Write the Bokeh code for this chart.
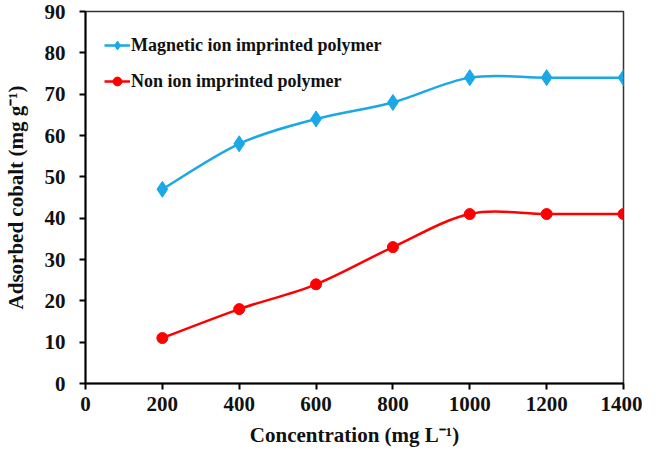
from bokeh.plotting import figure
from bokeh.models import Range1d, Legend, LegendItem, FixedTicker
from bokeh.embed import file_html
from bokeh.resources import INLINE

# ---- data ----
concentration = [200, 400, 600, 800, 1000, 1200, 1400]
magnetic_iip = [47, 58, 64, 68, 74, 74, 74]
non_iip = [11, 18, 24, 33, 41, 41, 41]
x_ticks = [0, 200, 400, 600, 800, 1000, 1200, 1400]
y_ticks = [0, 10, 20, 30, 40, 50, 60, 70, 80, 90]
series_names = ["Magnetic ion imprinted polymer", "Non ion imprinted polymer"]

CYAN = "#1AA8E6"
RED = "#FF0000"
FONT = "Liberation Serif"

p = figure(width=642, height=449, output_backend="svg", toolbar_location=None,
           x_range=Range1d(0, 1400), y_range=Range1d(0, 90),
           min_border_left=83, min_border_right=19, min_border_top=11, min_border_bottom=64)

p.xgrid.visible = False
p.ygrid.visible = False
p.outline_line_color = "#333333"
p.outline_line_width = 1.5


def smooth_segments(xs, ys):
    # Excel-like smoothed line: cubic bezier between consecutive data points
    n = len(xs)
    out = dict(x0=[], y0=[], x1=[], y1=[], cx0=[], cy0=[], cx1=[], cy1=[])
    for i in range(n - 1):
        ip = max(i - 1, 0)
        inx = min(i + 2, n - 1)
        out["x0"].append(xs[i]); out["y0"].append(ys[i])
        out["x1"].append(xs[i + 1]); out["y1"].append(ys[i + 1])
        out["cx0"].append(xs[i] + (xs[i + 1] - xs[ip]) / 6.0)
        out["cy0"].append(ys[i] + (ys[i + 1] - ys[ip]) / 6.0)
        out["cx1"].append(xs[i + 1] - (xs[inx] - xs[i]) / 6.0)
        out["cy1"].append(ys[i + 1] - (ys[inx] - ys[i]) / 6.0)
    return out


items = []
for ys, color, marker, size, name in [
    (magnetic_iip, CYAN, "diamond", 16, series_names[0]),
    (non_iip, RED, "circle", 11, series_names[1]),
]:
    seg = smooth_segments(concentration, ys)
    bz = p.bezier(x0=seg["x0"], y0=seg["y0"], x1=seg["x1"], y1=seg["y1"],
                  cx0=seg["cx0"], cy0=seg["cy0"], cx1=seg["cx1"], cy1=seg["cy1"],
                  line_color=color, line_width=2.5)
    sc = p.scatter(concentration, ys, marker=marker, size=size,
                   fill_color=color, line_color=color)
    items.append(LegendItem(label=name, renderers=[bz, sc]))

legend = Legend(items=items, location=(19, 291), padding=0, margin=0,
                spacing=14, glyph_width=26, glyph_height=22, label_standoff=1,
                border_line_color=None, background_fill_alpha=0,
                label_text_font=FONT, label_text_font_style="bold",
                label_text_font_size="18px", label_text_color="#111111")
p.add_layout(legend, "center")

for ax in (p.xaxis[0], p.yaxis[0]):
    ax.axis_line_color = "black"
    ax.axis_line_width = 2
    ax.major_tick_line_color = "black"
    ax.major_tick_line_width = 2
    ax.major_tick_out = 6
    ax.major_tick_in = 0
    ax.minor_tick_line_color = None
    ax.major_label_text_font = FONT
    ax.major_label_text_font_style = "bold"
    ax.major_label_text_font_size = "21px"
    ax.major_label_text_color = "#111111"
    ax.axis_label_text_font = FONT
    ax.axis_label_text_font_style = "bold"
    ax.axis_label_text_font_size = "21px"
    ax.axis_label_text_color = "#111111"

p.xaxis[0].ticker = FixedTicker(ticks=x_ticks)
p.yaxis[0].ticker = FixedTicker(ticks=y_ticks)
p.xaxis[0].axis_label = "Concentration (mg L\u207b\u00b9)"
p.yaxis[0].axis_label = "Adsorbed cobalt (mg g\u207b\u00b9)"
p.xaxis[0].major_label_standoff = 7
p.xaxis[0].axis_label_standoff = 9
p.yaxis[0].major_label_standoff = 14
p.yaxis[0].axis_label_standoff = 14

open("out.html", "w").write(file_html(p, INLINE))
